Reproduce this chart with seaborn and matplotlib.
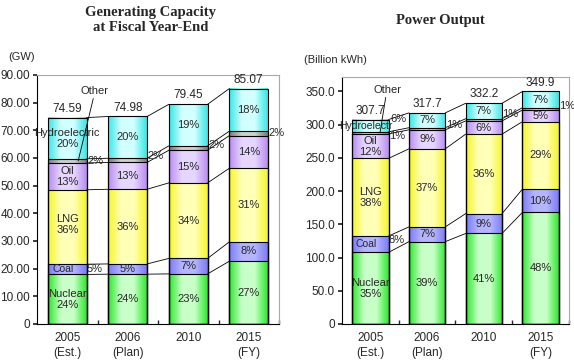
import numpy as np
import pandas as pd
import matplotlib
matplotlib.use("Agg")
import matplotlib.pyplot as plt
import seaborn as sns
from matplotlib.colors import LinearSegmentedColormap

# --- Data ---
years = ["2005\n(Est.)", "2006\n(Plan)", "2010", "2015\n(FY)"]
sources = ["Nuclear", "Coal", "LNG", "Oil", "Other", "Hydroelectric"]

# Generating capacity (GW)
cap_totals = [74.59, 74.98, 79.45, 85.07]
cap_nuclear = [17.9, 18.0, 18.1, 22.7]
cap_coal = [3.7, 3.7, 5.6, 7.0]
cap_lng = [26.9, 27.0, 27.3, 26.6]
cap_oil = [9.7, 9.7, 11.8, 11.8]
cap_other = [1.5, 1.5, 1.6, 1.6]
cap_hydro = [14.9, 15.1, 15.0, 15.4]
cap_pct = [[24, 24, 23, 27], [5, 5, 7, 8], [36, 36, 34, 31],
           [13, 13, 15, 14], [2, 2, 2, 2], [20, 20, 19, 18]]

# Power output (billion kWh)
out_totals = [307.7, 317.7, 332.2, 349.9]
out_nuclear = [107.7, 123.9, 136.2, 168.0]
out_coal = [24.6, 22.2, 29.9, 35.0]
out_lng = [116.9, 117.5, 119.6, 101.5]
out_oil = [36.9, 28.6, 19.9, 17.5]
out_other = [3.1, 3.2, 3.3, 3.5]
out_hydro = [18.5, 22.3, 23.3, 24.4]
out_pct = [[35, 39, 41, 48], [8, 7, 9, 10], [38, 37, 36, 29],
           [12, 9, 6, 5], [1, 1, 1, 1], [6, 7, 7, 7]]

# --- Style ---
EDGE = {"Nuclear": "#2ee82e", "Coal": "#7c7cf5", "LNG": "#f5f52a",
        "Oil": "#b98ef0", "Other": "#7a7a7a", "Hydroelectric": "#38e6e6"}
CENTER = {"Nuclear": "#c8ffc8", "Coal": "#b4b4ff", "LNG": "#ffffb8",
          "Oil": "#e6d6ff", "Other": "#cfcfcf", "Hydroelectric": "#d2ffff"}
BAR_W = 0.64
FS = 8

sns.set_theme(style="white")
plt.rcParams["font.family"] = ["Liberation Sans", "DejaVu Sans"]


def draw_panel(ax, layers, totals, pcts, ymax, ystep, tick_fmt, total_fmt,
               outside, first_names, nudge):
    df = pd.DataFrame({s: v for s, v in zip(sources, layers)}, index=years)
    cum = df.cumsum(axis=1)
    x = np.arange(len(years))

    # stacked bars: draw cumulative heights from tallest to shortest
    for s in reversed(sources):
        d = pd.DataFrame({"year": years, "val": cum[s].values})
        sns.barplot(data=d, x="year", y="val", color="white", width=BAR_W,
                    edgecolor="black", linewidth=0.8, ax=ax, zorder=3)
    for p in ax.patches:
        p.set_facecolor("none")

    # gradient fill per segment
    grad = np.linspace(0, 1, 64)[None, :]
    for s in sources:
        cmap = LinearSegmentedColormap.from_list(s, [EDGE[s], CENTER[s], CENTER[s], EDGE[s]])
        for i in x:
            top = cum[s].iloc[i]
            bot = top - df[s].iloc[i]
            ax.imshow(grad, cmap=cmap, aspect="auto", zorder=2,
                      extent=[i - BAR_W / 2, i + BAR_W / 2, bot, top])

    # series lines between bars
    for s in sources:
        for i in x[:-1]:
            ax.plot([i + BAR_W / 2, i + 1 - BAR_W / 2],
                    [cum[s].iloc[i], cum[s].iloc[i + 1]],
                    color="black", lw=0.6, zorder=4)

    # segment labels
    for k, s in enumerate(sources):
        for i in x:
            top = cum[s].iloc[i]
            mid = top - df[s].iloc[i] / 2
            txt = f"{pcts[k][i]}%"
            dy = nudge.get((i, s), 0)
            if (i, s) in outside:
                dx = 1.5 if (i == 0 and s == "Hydroelectric") else 0.3
                ax.annotate(txt, (i + BAR_W / 2, mid), xytext=(dx, dy),
                            textcoords="offset points", ha="left", va="center",
                            fontsize=FS, zorder=6)
                if i == 0 and s in first_names:
                    ax.annotate(first_names[s], (i, mid), xytext=(-3, 0),
                                textcoords="offset points", ha="center", va="center",
                                fontsize=FS - 0.5, zorder=6)
            else:
                if i == 0 and s in first_names:
                    txt = first_names[s] + "\n" + txt
                ax.annotate(txt, (i, mid), xytext=(0, dy), textcoords="offset points",
                            ha="center", va="center", fontsize=FS,
                            linespacing=1.1, zorder=6)

    # totals on top
    for i in x:
        ax.annotate(total_fmt.format(totals[i]), (i, totals[i]), xytext=(0, 2),
                    textcoords="offset points", ha="center", va="bottom",
                    fontsize=FS + 0.5)

    ax.set_xlim(-0.5, len(years) - 0.5)
    ax.set_ylim(0, ymax)
    ticks = np.arange(0, ymax + 0.01, ystep)
    ticks = ticks[ticks <= ymax]
    ax.set_yticks(ticks)
    ax.set_yticklabels(["0"] + [tick_fmt.format(t) for t in ticks[1:]], fontsize=FS + 0.5)
    ax.set_xticks(x)
    ax.set_xticklabels(years, fontsize=FS + 0.5, va="top", linespacing=1.3)
    ax.set_xticks(x + 0.5, minor=True)
    ax.tick_params(axis="y", which="major", direction="out", length=3, left=True, pad=2)
    ax.tick_params(axis="x", which="major", length=0, pad=6)
    ax.tick_params(axis="x", which="minor", direction="in", length=3, bottom=True)
    ax.set_xlabel("")
    ax.set_ylabel("")
    for side in ["left", "bottom"]:
        ax.spines[side].set_color("black")
        ax.spines[side].set_linewidth(0.8)
    for side in ["top", "right"]:
        ax.spines[side].set_color("#a8a8a8")
        ax.spines[side].set_linewidth(0.8)
    return cum


fig = plt.figure(figsize=(5.74, 3.64), dpi=100)
ax1 = fig.add_axes([0.0645, 0.110, 0.4216, 0.684])
ax2 = fig.add_axes([0.5958, 0.110, 0.3955, 0.679])

cum1 = draw_panel(ax1, [cap_nuclear, cap_coal, cap_lng, cap_oil, cap_other, cap_hydro],
                  cap_totals, cap_pct, 90, 10, "{:.2f}", "{:.2f}",
                  outside={(0, "Coal"), (0, "Other"), (1, "Other"), (2, "Other"), (3, "Other")},
                  first_names={"Nuclear": "Nuclear", "Coal": "Coal", "LNG": "LNG",
                               "Oil": "Oil", "Hydroelectric": "Hydroelectric"},
                  nudge={(0, "LNG"): 2, (1, "Other"): 3, (2, "Other"): 2})
cum2 = draw_panel(ax2, [out_nuclear, out_coal, out_lng, out_oil, out_other, out_hydro],
                  out_totals, out_pct, 372, 50, "{:.1f}", "{:.1f}",
                  outside={(0, "Coal"), (0, "Hydroelectric"), (0, "Other"), (1, "Other"),
                           (2, "Other"), (3, "Other")},
                  first_names={"Nuclear": "Nuclear", "Coal": "Coal", "LNG": "LNG",
                               "Oil": "Oil", "Hydroelectric": "Hydroelectr"},
                  nudge={(0, "Hydroelectric"): 5, (0, "Other"): -2, (0, "Coal"): 3,
                         (1, "Other"): 3, (2, "Other"): 4, (3, "Other"): 2})

# "Other" callouts
oth1 = cum1["Other"].iloc[0] - cap_other[0] / 2
ax1.plot([0.43, 0.18], [81.5, oth1], color="black", lw=0.6, zorder=7)
ax1.text(0.45, 82.5, "Other", ha="center", va="bottom", fontsize=FS)
oth2 = cum2["Other"].iloc[0] - out_other[0] / 2
ax2.plot([0.27, 0.17], [341, oth2], color="black", lw=0.6, zorder=7)
ax2.text(0.31, 344, "Other", ha="center", va="bottom", fontsize=FS)

# titles and units
fig.text(0.262, 0.945, "Generating Capacity\nat Fiscal Year-End", ha="center", va="center",
         fontsize=10.5, fontweight="bold", family="Liberation Serif", linespacing=1.2)
fig.text(0.767, 0.945, "Power Output", ha="center", va="center",
         fontsize=10.5, fontweight="bold", family="Liberation Serif")
fig.text(0.038, 0.843, "(GW)", ha="center", va="center", fontsize=FS)
fig.text(0.585, 0.835, "(Billion kWh)", ha="center", va="center", fontsize=FS)

fig.savefig("out.png", dpi=100)
